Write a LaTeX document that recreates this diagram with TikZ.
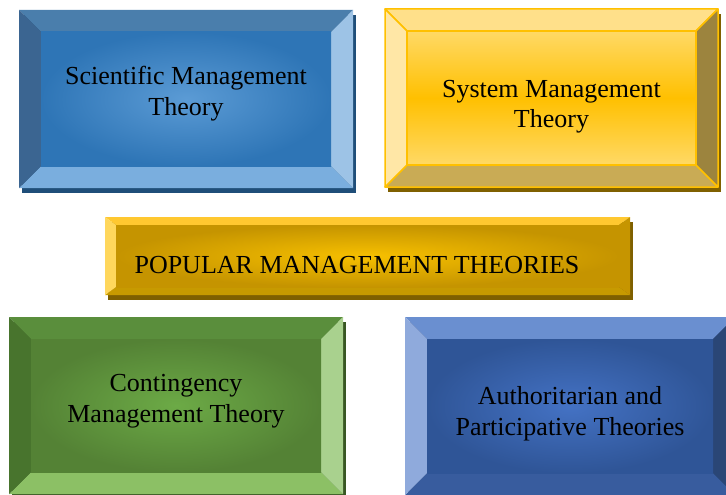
\documentclass[tikz,border=0pt]{standalone}
\usepackage{fontspec}
\setmainfont{Liberation Serif}
\definecolor{sciT}{HTML}{4A7EAC}\definecolor{sciL}{HTML}{3B6591}
\definecolor{sciR}{HTML}{9DC3E6}\definecolor{sciB}{HTML}{7AAEDE}
\definecolor{sciS}{HTML}{1F4E79}\definecolor{sciI}{HTML}{5B9BD5}\definecolor{sciO}{HTML}{2E75B6}
\definecolor{sysT}{HTML}{FFE08A}\definecolor{sysL}{HTML}{FFE7A6}
\definecolor{sysR}{HTML}{9C843E}\definecolor{sysB}{HTML}{C9AB55}
\definecolor{sysS}{HTML}{7F6000}\definecolor{sysI}{HTML}{FFC000}\definecolor{sysO}{HTML}{FFD966}
\definecolor{popT}{HTML}{FFC830}\definecolor{popL}{HTML}{FFD75C}
\definecolor{popR}{HTML}{C69500}\definecolor{popB}{HTML}{C79A00}
\definecolor{popS}{HTML}{7F6000}\definecolor{popI}{HTML}{F7C000}\definecolor{popO}{HTML}{C59400}
\definecolor{conT}{HTML}{5A8E3C}\definecolor{conL}{HTML}{48742D}
\definecolor{conR}{HTML}{A9D18E}\definecolor{conB}{HTML}{8CC065}
\definecolor{conS}{HTML}{385723}\definecolor{conI}{HTML}{6CAA46}\definecolor{conO}{HTML}{548235}
\definecolor{autT}{HTML}{6A8FD0}\definecolor{autL}{HTML}{8FAADC}
\definecolor{autR}{HTML}{2A4676}\definecolor{autB}{HTML}{385C9E}
\definecolor{autS}{HTML}{203864}\definecolor{autI}{HTML}{4472C4}\definecolor{autO}{HTML}{2F5597}
\tikzset{
  sciedge/.style={}, conedge/.style={}, autedge/.style={}, popedge/.style={},
  sysedge/.style={draw=sysI,line width=1.5pt,line join=round},
  sciinner/.style={inner color=sciI,outer color=sciO},
  sysinner/.style={top color=sysO,bottom color=sysO,middle color=sysI},
  popinner/.style={inner color=popI,outer color=popO},
  coninner/.style={inner color=conI,outer color=conO},
  autinner/.style={inner color=autI,outer color=autO},
  lbl/.style={font=\fontsize{26}{31}\selectfont,align=center,inner sep=0pt,text=black}
}
\newcommand\bevbox[7]{%
  \fill[#7S] (#1+3,#2+5) rectangle (#3+3,#4+5);
  \path[#7edge,fill=#7T] (#1,#2) -- (#3,#2) -- (#3-#5,#2+#6) -- (#1+#5,#2+#6) -- cycle;
  \path[#7edge,fill=#7B] (#1,#4) -- (#3,#4) -- (#3-#5,#4-#6) -- (#1+#5,#4-#6) -- cycle;
  \path[#7edge,fill=#7L] (#1,#2) -- (#1+#5,#2+#6) -- (#1+#5,#4-#6) -- (#1,#4) -- cycle;
  \path[#7edge,fill=#7R] (#3,#2) -- (#3-#5,#2+#6) -- (#3-#5,#4-#6) -- (#3,#4) -- cycle;
  \path[#7edge,#7inner] (#1+#5,#2+#6) rectangle (#3-#5,#4-#6);
}
\begin{document}
\begin{tikzpicture}[x=1pt,y=-1pt]
\useasboundingbox (0,0) rectangle (726,495);
\clip (0,0) rectangle (726,495);
\bevbox{19}{10}{353}{188}{22}{22}{sci}
\bevbox{385}{9}{718}{187}{22}{22}{sys}
\bevbox{105}{217}{630}{295}{11}{8}{pop}
\bevbox{9}{317}{343}{494}{22}{22}{con}
\bevbox{405}{317}{735}{495}{22}{22}{aut}
\node[lbl,anchor=base] (tsci) at (186,115) {Scientific Management\\Theory};
\node[lbl,anchor=base] (tsys) at (551.5,128) {System Management\\Theory};
\node[lbl,anchor=base] (tpop) at (357,273) {POPULAR MANAGEMENT THEORIES};
\node[lbl,anchor=base] (tcon) at (176,422) {Contingency\\Management Theory};
\node[lbl,anchor=base] (taut) at (570,435) {Authoritarian and\\Participative Theories};
\end{tikzpicture}
\end{document}
